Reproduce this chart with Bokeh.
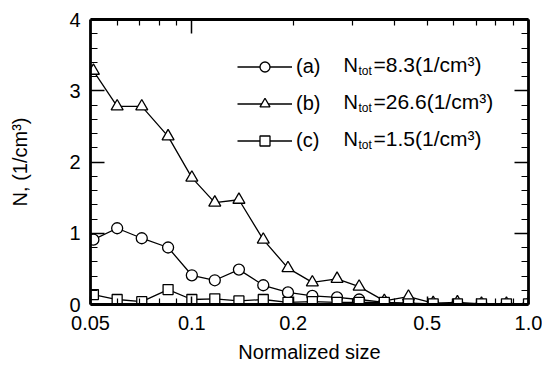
from bokeh.plotting import figure
from bokeh.models import (Range1d, LogAxis, LinearAxis, FixedTicker, Legend,
                          LegendItem, Label, CustomJSTickFormatter)
from bokeh.embed import file_html
from bokeh.resources import INLINE

# ---- data ----
size = [0.051, 0.060, 0.071, 0.085, 0.100, 0.117, 0.138, 0.163, 0.193, 0.228,
        0.270, 0.314, 0.373, 0.440, 0.521, 0.615, 0.725, 0.860, 1.0]
n_a = [0.91, 1.07, 0.93, 0.80, 0.41, 0.34, 0.49, 0.27, 0.17, 0.12,
       0.10, 0.07, 0.03, 0.02, 0.01, 0.01, 0.00, 0.00, 0.00]
n_b = [3.28, 2.78, 2.78, 2.36, 1.78, 1.43, 1.47, 0.91, 0.51, 0.31,
       0.36, 0.25, 0.05, 0.11, 0.02, 0.03, 0.01, 0.01, 0.01]
n_c = [0.14, 0.07, 0.04, 0.21, 0.07, 0.08, 0.05, 0.07, 0.03, 0.04,
       0.03, 0.03, 0.03, 0.01, 0.01, 0.01, 0.01, 0.01, 0.01]

series_tags = ["(a)", "(b)", "(c)"]
series_totals = ["=8.3(1/cm³)", "=26.6(1/cm³)", "=1.5(1/cm³)"]

x_label_ticks = [0.05, 0.1, 0.2, 0.5, 1.0]
x_tick_text = {1: "1.0"}
x_minor_ticks = [0.06, 0.07, 0.08, 0.09, 0.3, 0.4, 0.6, 0.7, 0.8, 0.9]
x_top_major = [0.1, 1.0]
x_top_minor = [0.06, 0.07, 0.08, 0.09, 0.2, 0.3, 0.4, 0.5, 0.6, 0.7, 0.8, 0.9]
y_major = [0, 1, 2, 3, 4]
y_minor = [0.2, 0.4, 0.6, 0.8, 1.2, 1.4, 1.6, 1.8, 2.2, 2.4, 2.6, 2.8,
           3.2, 3.4, 3.6, 3.8]

FONT = "Liberation Sans"

p = figure(width=542, height=368, x_axis_type="log",
           x_range=Range1d(0.05, 1.0), y_range=Range1d(0, 4),
           output_backend="svg", toolbar_location=None,
           min_border_left=90, min_border_right=14,
           min_border_top=19, min_border_bottom=64)
p.xgrid.visible = False
p.ygrid.visible = False
p.outline_line_color = None
p.background_fill_color = "white"
p.border_fill_color = "white"


def style_axis(ax, major_in, minor_in):
    ax.axis_line_width = 2.8
    ax.axis_line_color = "black"
    ax.major_tick_in = major_in
    ax.major_tick_out = 0
    ax.minor_tick_in = minor_in
    ax.minor_tick_out = 0
    ax.major_tick_line_width = 1.5
    ax.minor_tick_line_width = 1.2
    ax.major_tick_line_color = "black"
    ax.minor_tick_line_color = "black"
    ax.major_label_text_font = FONT
    ax.major_label_text_font_size = "20px"
    ax.major_label_text_color = "black"
    ax.axis_label_text_font = FONT
    ax.axis_label_text_font_size = "20px"
    ax.axis_label_text_font_style = "normal"
    ax.axis_label_text_color = "black"


xb = p.xaxis[0]
xb.ticker = FixedTicker(ticks=x_label_ticks, minor_ticks=x_minor_ticks)
style_axis(xb, 8, 6)
xb.major_label_overrides = x_tick_text
xb.major_label_standoff = 11
xb.axis_label = "Normalized size"
xb.axis_label_standoff = 8

yl = p.yaxis[0]
yl.ticker = FixedTicker(ticks=y_major, minor_ticks=y_minor)
style_axis(yl, 14, 7)
yl.major_label_standoff = 10
yl.axis_label = "N, (1/cm³)"
yl.axis_label_standoff = 35

blank = CustomJSTickFormatter(code="return ''")
xt = LogAxis(ticker=FixedTicker(ticks=x_top_major, minor_ticks=x_top_minor),
             formatter=blank)
style_axis(xt, 14, 6)
xt.major_label_standoff = 0
p.add_layout(xt, "above")

yr = LinearAxis(ticker=FixedTicker(ticks=y_major, minor_ticks=y_minor),
                formatter=blank)
style_axis(yr, 14, 7)
yr.major_label_standoff = 0
p.add_layout(yr, "right")

# ---- series ----
la = p.line(size, n_a, line_color="black", line_width=1.3)
lb = p.line(size, n_b, line_color="black", line_width=1.3)
lc = p.line(size, n_c, line_color="black", line_width=1.3)
sa = p.scatter(size, n_a, marker="circle", size=11, fill_color="white",
               line_color="black", line_width=1.3)
sb = p.scatter(size, n_b, marker="triangle", size=12, fill_color="white",
               line_color="black", line_width=1.3)
sc = p.scatter(size, n_c, marker="square", size=10, fill_color="white",
               line_color="black", line_width=1.3)

legend = Legend(items=[LegendItem(label=series_tags[0], renderers=[la, sa]),
                       LegendItem(label=series_tags[1], renderers=[lb, sb]),
                       LegendItem(label=series_tags[2], renderers=[lc, sc])],
                location=(147, 151), glyph_width=55, glyph_height=25,
                label_height=25, spacing=12, padding=0, margin=0,
                label_standoff=4, border_line_color=None,
                background_fill_alpha=0, label_text_font=FONT,
                label_text_font_size="20px", label_text_color="black")
p.add_layout(legend)

row_y = [240, 203, 166]
for yy, tot in zip(row_y, series_totals):
    p.add_layout(Label(x=253, y=yy, x_units="screen", y_units="screen",
                       text="N", text_baseline="middle", text_font=FONT,
                       text_font_size="20px", text_color="black"))
    p.add_layout(Label(x=268, y=yy - 6, x_units="screen", y_units="screen",
                       text="tot", text_baseline="middle", text_font=FONT,
                       text_font_size="12px", text_color="black"))
    p.add_layout(Label(x=283, y=yy, x_units="screen", y_units="screen",
                       text=tot, text_baseline="middle", text_font=FONT,
                       text_font_size="21px", text_color="black"))

open("out.html", "w").write(file_html(p, INLINE))
